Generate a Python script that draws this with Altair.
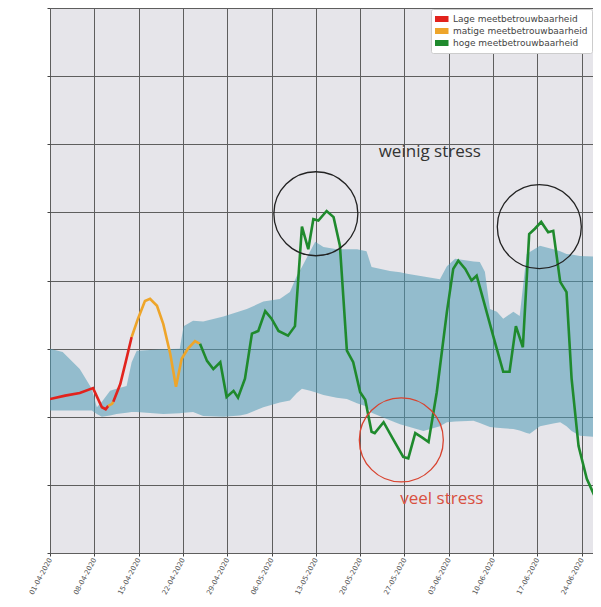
import altair as alt
import pandas as pd

# ---------------- data ----------------
tick_labels = ["01-04-2020", "08-04-2020", "15-04-2020", "22-04-2020", "29-04-2020",
               "06-05-2020", "13-05-2020", "20-05-2020", "27-05-2020", "03-06-2020",
               "10-06-2020", "17-06-2020", "24-06-2020"]

# days after 01-04-2020
line_day = [0.0, 2.4, 4.7, 6.8, 8.2, 8.8, 9.2, 9.8, 10.0, 11.1, 12.0, 12.9, 13.9, 15.0,
            15.8, 16.9, 17.9, 19.0, 19.9, 20.8, 21.8, 22.9, 23.7, 24.8, 25.8, 26.9, 27.9,
            29.0, 29.7, 30.8, 31.9, 32.9, 34.0, 35.0, 36.1, 37.6, 38.7, 39.8, 40.8, 41.6,
            42.4, 43.7, 44.8, 45.8, 46.9, 47.9, 49.0, 49.8, 50.8, 51.3, 52.7, 54.2, 55.8,
            56.6, 57.7, 58.7, 59.8, 61.1, 62.7, 63.7, 64.5, 65.6, 66.6, 67.4, 68.5, 70.0,
            71.6, 72.6, 73.6, 74.7, 75.7, 76.6, 77.6, 78.7, 79.5, 80.6, 81.6, 82.4, 83.5,
            84.8, 86.6, 87.0]
line_value = [2.26, 2.31, 2.35, 2.42, 2.14, 2.11, 2.16, 2.19, 2.22, 2.48, 2.82, 3.17, 3.44,
              3.70, 3.73, 3.63, 3.36, 2.92, 2.44, 2.85, 3.00, 3.11, 3.07, 2.82, 2.70, 2.80,
              2.29, 2.38, 2.28, 2.56, 3.22, 3.26, 3.55, 3.44, 3.26, 3.19, 3.33, 4.79, 4.46,
              4.90, 4.88, 5.02, 4.93, 4.51, 2.97, 2.80, 2.36, 2.25, 1.78, 1.76, 1.92, 1.67,
              1.41, 1.39, 1.76, 1.70, 1.63, 2.36, 3.54, 4.17, 4.29, 4.17, 4.00, 4.07, 3.70,
              3.19, 2.66, 2.66, 3.33, 3.02, 4.68, 4.76, 4.86, 4.71, 4.73, 3.98, 3.83, 2.56,
              1.57, 1.09, 0.72, 0.70]
line_level = (["L"] * 6 + ["M"] * 2 + ["L"] * 3 + ["M"] * 11 + ["H"] * 59 + ["M"] * 1)

band_day = [0, 2, 4.7, 6.6, 7.4, 8.2, 9.5, 10.5, 12.1, 12.9, 13.7, 17.9, 20.5, 21.1, 22.6,
            24.2, 27.4, 30, 31.1, 33.7, 36.3, 37.9, 39, 39.8, 41.1, 41.9, 43.2, 45.3, 46.9,
            48.5, 50, 50.8, 53.7, 55.3, 56.4, 59, 61.6, 62.7, 64, 66.9, 67.9, 68.7, 69.5,
            70.6, 71.6, 73.2, 74.2, 75.3, 75.8, 77.4, 79.5, 80.6, 81.6, 82.4, 83.7, 87]
band_upper = [3.00, 2.95, 2.70, 2.41, 2.14, 2.22, 2.38, 2.41, 2.45, 2.80, 2.97, 2.99, 3.00,
              3.33, 3.41, 3.40, 3.47, 3.55, 3.58, 3.69, 3.73, 3.83, 4.07, 4.20, 4.43, 4.57,
              4.49, 4.46, 4.46, 4.46, 4.43, 4.20, 4.14, 4.12, 4.10, 4.06, 4.02, 4.21, 4.32,
              4.28, 4.27, 4.13, 3.58, 3.54, 3.44, 3.54, 3.48, 4.39, 4.42, 4.51, 4.46, 4.43,
              4.39, 4.38, 4.36, 4.35]
band_lower = [2.09, 2.09, 2.09, 2.09, 2.04, 2.00, 2.02, 2.04, 2.06, 2.07, 2.07, 2.04, 2.05,
              2.06, 2.07, 2.01, 2.00, 2.02, 2.04, 2.14, 2.21, 2.24, 2.35, 2.41, 2.38, 2.36,
              2.32, 2.28, 2.26, 2.20, 2.15, 2.06, 1.95, 1.89, 1.86, 1.79, 1.86, 1.92, 1.93,
              1.94, 1.91, 1.88, 1.85, 1.84, 1.83, 1.82, 1.80, 1.76, 1.75, 1.86, 1.90, 1.92,
              1.86, 1.79, 1.72, 1.70]

level_codes = ["L", "M", "H"]
level_names = ["Lage meetbetrouwbaarheid", "matige meetbetrouwbaarheid", "hoge meetbetrouwbaarheid"]
level_colors = ["#e2231d", "#eea52a", "#1f8a2d"]

circle_day = [42.0, 77.3, 55.5]
circle_value = [4.98, 4.79, 1.66]
circle_color = ["#222222", "#222222", "#d8432f"]

note_text = ["weinig stress", "veel stress"]
note_day = [60.0, 61.9]
note_value = [5.89, 0.79]
note_color = ["#333333", "#d9503f"]

y_grid = [0, 1, 2, 3, 4, 5, 6, 7, 8]

# ---------------- build tables ----------------
base = pd.Timestamp("2020-04-01")


def to_date(days):
    return base + pd.to_timedelta(pd.Series(days, dtype=float), unit="D")


name_of = dict(zip(level_codes, level_names))
rows = []
seg = 0
prev = None
for d, v, lv in zip(line_day, line_value, line_level):
    if prev is not None and lv != prev:
        rows.append({"day": d, "value": v, "level": name_of[prev], "seg": seg})
        seg += 1
    rows.append({"day": d, "value": v, "level": name_of[lv], "seg": seg})
    prev = lv
line_df = pd.DataFrame(rows)
line_df["date"] = to_date(line_df["day"]).values

band_df = pd.DataFrame({"date": to_date(band_day), "upper": band_upper, "lower": band_lower})
circle_df = pd.DataFrame({"date": to_date(circle_day), "value": circle_value, "c": circle_color})
note_df = pd.DataFrame({"date": to_date(note_day), "value": note_value, "t": note_text, "c": note_color})


def dt(s):
    d, m, y = s.split("-")
    return alt.DateTime(year=int(y), month=int(m), date=int(d))


x_scale = alt.Scale(domain=[alt.DateTime(year=2020, month=4, date=1),
                            alt.DateTime(year=2020, month=6, date=25, hours=18, minutes=45)])
y_scale = alt.Scale(domain=[0, 8])

x_axis = alt.Axis(values=[dt(s) for s in tick_labels], format="%d-%m-%Y", title=None,
                  labelAngle=-62, labelAlign="right", labelBaseline="middle",
                  labelPadding=2, labelFont="DejaVu Sans", labelFontSize=7,
                  labelColor="#555555", tickColor="#444444", tickSize=3,
                  domain=False, grid=True, gridColor="#5e5e5e", gridWidth=1)
y_axis = alt.Axis(values=y_grid, labels=False, title=None, tickSize=3,
                  tickColor="#444444", domain=False, grid=True,
                  gridColor="#5e5e5e", gridWidth=1)

band = alt.Chart(band_df).mark_area(color="#4f9ab5", opacity=0.55).encode(
    x=alt.X("date:T", scale=x_scale, axis=x_axis),
    y=alt.Y("upper:Q", scale=y_scale, axis=y_axis),
    y2="lower:Q",
)

lines = alt.Chart(line_df).mark_line(strokeWidth=2.6, clip=True).encode(
    x=alt.X("date:T", scale=x_scale),
    y=alt.Y("value:Q", scale=y_scale),
    color=alt.Color("level:N", scale=alt.Scale(domain=level_names, range=level_colors),
                    legend=alt.Legend(title=None, orient="top-right")),
    detail="seg:N",
)

circles = alt.Chart(circle_df).mark_point(shape="circle", filled=False, size=7056,
                                          strokeWidth=1.3, opacity=1).encode(
    x=alt.X("date:T", scale=x_scale),
    y=alt.Y("value:Q", scale=y_scale),
    color=alt.Color("c:N", scale=None),
)

notes = alt.Chart(note_df).mark_text(font="Open Sans", fontSize=17).encode(
    x=alt.X("date:T", scale=x_scale),
    y=alt.Y("value:Q", scale=y_scale),
    text="t:N",
    color=alt.Color("c:N", scale=None),
)

chart = alt.layer(band, lines, circles, notes).properties(
    width=543, height=545,
    padding={"left": 42, "top": 0, "right": 0, "bottom": 46},
    autosize=alt.AutoSizeParams(type="none"),
).configure_view(
    fill="#e6e5ea", strokeWidth=0
).configure_legend(
    fillColor="white", strokeColor="#cccccc", cornerRadius=2, padding=4, offset=1,
    symbolType="M-2.5,0H2.5", symbolSize=36, symbolStrokeWidth=6,
    labelFont="DejaVu Sans", labelFontSize=9, labelColor="#444444",
    rowPadding=0, labelLimit=300, labelOffset=6, clipHeight=12,
)

chart.save("out.html", embed_options={"renderer": "svg", "actions": False})
